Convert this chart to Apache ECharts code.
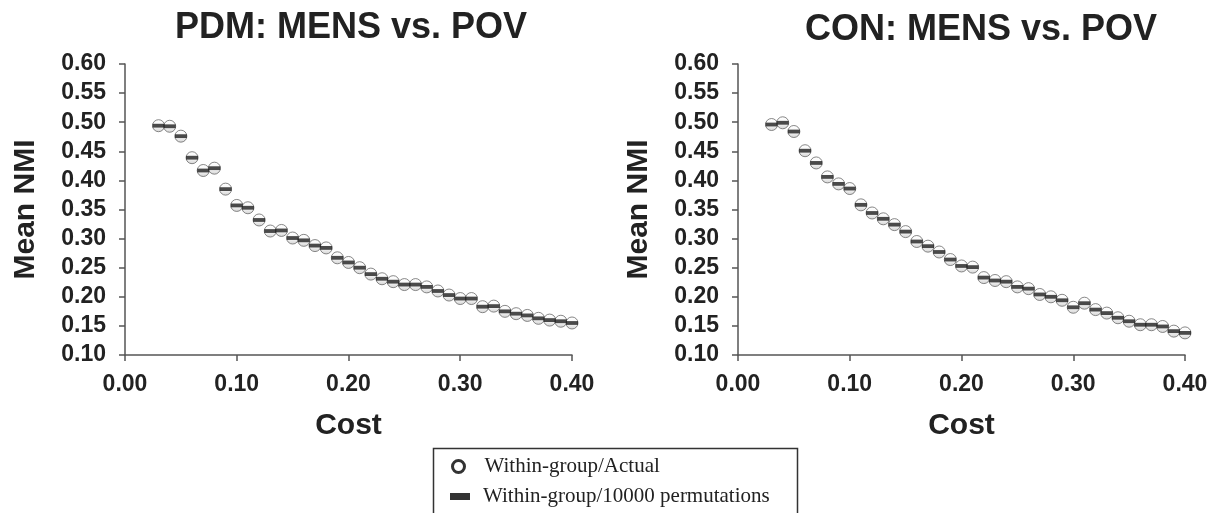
<!DOCTYPE html>
<html>
<head>
<meta charset="utf-8">
<title>Mean NMI vs Cost</title>
<script src="https://cdn.jsdelivr.net/npm/echarts@6/dist/echarts.min.js"></script>
<style>
  html, body { margin: 0; padding: 0; background: #fff; }
  #chart { width: 1220px; height: 513px; }
</style>
</head>
<body>
<div id="chart"></div>
<script>
// Cost thresholds shared by both panels
const costs = [0.03, 0.04, 0.05, 0.06, 0.07, 0.08, 0.09, 0.10, 0.11, 0.12,
               0.13, 0.14, 0.15, 0.16, 0.17, 0.18, 0.19, 0.20, 0.21, 0.22,
               0.23, 0.24, 0.25, 0.26, 0.27, 0.28, 0.29, 0.30, 0.31, 0.32,
               0.33, 0.34, 0.35, 0.36, 0.37, 0.38, 0.39, 0.40];

// PDM panel
const pdmActual = [0.494, 0.493, 0.476, 0.439, 0.417, 0.421, 0.385, 0.357, 0.353, 0.332,
                   0.313, 0.314, 0.301, 0.297, 0.288, 0.284, 0.267, 0.259, 0.250, 0.239,
                   0.231, 0.226, 0.221, 0.221, 0.217, 0.210, 0.203, 0.197, 0.197, 0.183,
                   0.184, 0.175, 0.171, 0.168, 0.163, 0.160, 0.158, 0.155];
const pdmPerm   = [0.494, 0.493, 0.476, 0.439, 0.417, 0.421, 0.385, 0.357, 0.353, 0.332,
                   0.313, 0.314, 0.301, 0.297, 0.288, 0.284, 0.267, 0.259, 0.250, 0.239,
                   0.231, 0.226, 0.221, 0.221, 0.217, 0.210, 0.203, 0.197, 0.197, 0.183,
                   0.184, 0.175, 0.171, 0.168, 0.163, 0.160, 0.158, 0.155];

// CON panel
const conActual = [0.496, 0.499, 0.484, 0.451, 0.430, 0.406, 0.394, 0.386, 0.358, 0.344,
                   0.334, 0.324, 0.312, 0.295, 0.287, 0.277, 0.264, 0.253, 0.251, 0.233,
                   0.228, 0.226, 0.217, 0.214, 0.204, 0.200, 0.194, 0.182, 0.189, 0.178,
                   0.172, 0.164, 0.158, 0.152, 0.152, 0.149, 0.141, 0.138];
const conPerm   = [0.496, 0.499, 0.484, 0.451, 0.430, 0.406, 0.394, 0.386, 0.358, 0.344,
                   0.334, 0.324, 0.312, 0.295, 0.287, 0.277, 0.264, 0.253, 0.251, 0.233,
                   0.228, 0.226, 0.217, 0.214, 0.204, 0.200, 0.194, 0.182, 0.189, 0.178,
                   0.172, 0.164, 0.158, 0.152, 0.152, 0.149, 0.141, 0.138];

const titles = ['PDM: MENS vs. POV', 'CON: MENS vs. POV'];
const seriesNames = ['Within-group/Actual', 'Within-group/10000 permutations'];

const TXT = '#222';
const AXIS = '#555';
const FONT = '"Liberation Sans", Arial, Helvetica, sans-serif';
const SERIF = '"Liberation Serif", "Times New Roman", serif';

const pairs = vals => vals.map((v, i) => [costs[i], v]);

function xAxisFor(gridIndex) {
    return {
        type: 'value', gridIndex,
        min: 0, max: 0.4, interval: 0.1,
        name: 'Cost', nameLocation: 'middle', nameGap: 56,
        nameTextStyle: { fontFamily: FONT, fontWeight: 'bold', fontSize: 30, color: TXT },
        axisLine: { show: true, onZero: false, lineStyle: { color: AXIS, width: 1.5 } },
        axisTick: { show: true, length: 6, lineStyle: { color: AXIS, width: 1.5 } },
        splitLine: { show: false },
        axisLabel: {
            margin: 18, fontFamily: FONT, fontWeight: 'bold', fontSize: 23, color: TXT,
            formatter: v => v.toFixed(2)
        }
    };
}

function yAxisFor(gridIndex) {
    return {
        type: 'value', gridIndex,
        min: 0.1, max: 0.6, interval: 0.05,
        name: 'Mean NMI', nameLocation: 'middle', nameGap: 84, nameRotate: 90,
        nameTextStyle: { fontFamily: FONT, fontWeight: 'bold', fontSize: 30, color: TXT },
        axisLine: { show: true, onZero: false, lineStyle: { color: AXIS, width: 1.5 } },
        axisTick: { show: true, length: 6, lineStyle: { color: AXIS, width: 1.5 } },
        splitLine: { show: false },
        axisLabel: {
            margin: 19, fontFamily: FONT, fontWeight: 'bold', fontSize: 23, color: TXT,
            formatter: v => v.toFixed(2)
        }
    };
}

const circleStyle = {
    color: new echarts.graphic.LinearGradient(0, 0, 0, 1, [
        { offset: 0, color: '#ffffff' },
        { offset: 0.55, color: '#f4f4f4' },
        { offset: 1, color: '#c8c8c8' }
    ]),
    borderColor: '#6a6a6a',
    borderWidth: 1
};

function actualSeries(idx, vals) {
    return {
        name: seriesNames[0], type: 'scatter', xAxisIndex: idx, yAxisIndex: idx,
        data: pairs(vals), symbol: 'circle', symbolSize: 12,
        itemStyle: circleStyle, z: 2, emphasis: { disabled: true }
    };
}

function permSeries(idx, vals) {
    return {
        name: seriesNames[1], type: 'scatter', xAxisIndex: idx, yAxisIndex: idx,
        data: pairs(vals), symbol: 'rect', symbolSize: [12, 3.8],
        itemStyle: { color: '#1e1e1e' }, z: 3, emphasis: { disabled: true }
    };
}

const chart = echarts.init(document.getElementById('chart'), null, { renderer: 'canvas' });

chart.setOption({
    backgroundColor: '#fff',
    animation: false,
    title: [
        { text: titles[0], left: 346, top: 5, textAlign: 'center',
          textStyle: { fontFamily: FONT, fontWeight: 'bold', fontSize: 36, color: TXT } },
        { text: titles[1], left: 976, top: 7, textAlign: 'center',
          textStyle: { fontFamily: FONT, fontWeight: 'bold', fontSize: 36, color: TXT } }
    ],
    grid: [
        { left: 125, top: 64, width: 447, height: 291 },
        { left: 738, top: 64, width: 447, height: 291 }
    ],
    xAxis: [xAxisFor(0), xAxisFor(1)],
    yAxis: [yAxisFor(0), yAxisFor(1)],
    legend: [
        {
            data: [{ name: seriesNames[0], icon: 'circle',
                     itemStyle: { color: '#fff', borderColor: '#000', borderWidth: 3 } }],
            left: 451, top: 456, padding: 0, itemWidth: 34, itemHeight: 12,
            selectedMode: false,
            textStyle: { fontFamily: SERIF, fontSize: 21, color: TXT, padding: [0, 0, 0, 4] }
        },
        {
            data: [{ name: seriesNames[1], icon: 'rect', itemStyle: { color: '#000' } }],
            left: 450, top: 486, padding: 0, itemWidth: 20, itemHeight: 7,
            selectedMode: false,
            textStyle: { fontFamily: SERIF, fontSize: 21, color: TXT, padding: [0, 0, 0, 8] }
        }
    ],
    graphic: [{
        type: 'rect', silent: true, z: -1,
        shape: { x: 433.5, y: 448.5, width: 364, height: 80 },
        style: { fill: 'none', stroke: '#333', lineWidth: 1.5 }
    }],
    series: [
        actualSeries(0, pdmActual), permSeries(0, pdmPerm),
        actualSeries(1, conActual), permSeries(1, conPerm)
    ]
});
</script>
</body>
</html>
